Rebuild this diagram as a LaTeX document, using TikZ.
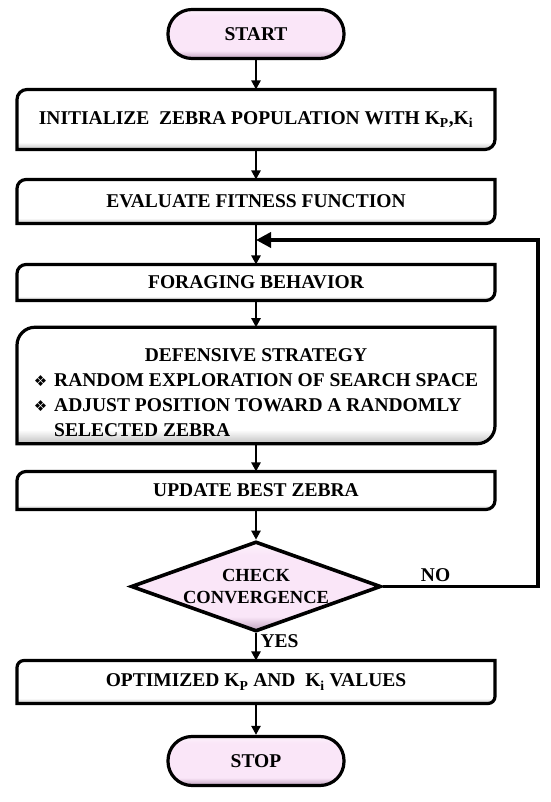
\documentclass[tikz,border=0pt]{standalone}
\usepackage{fontspec}
\setmainfont{Liberation Serif}
\newfontfamily\symfont{DejaVu Sans}
\usetikzlibrary{shapes.geometric,arrows.meta,backgrounds}
\definecolor{zpink}{RGB}{250,230,248}
\definecolor{zpinkd}{RGB}{190,160,188}
\pgfdeclareverticalshading{zwhite}{100bp}{color(0bp)=(black!25); color(25bp)=(black!25);
  color(31bp)=(white); color(100bp)=(white)}
\pgfdeclareverticalshading{zrose}{100bp}{color(0bp)=(zpinkd); color(25bp)=(zpinkd);
  color(33bp)=(zpink); color(68bp)=(zpink); color(75bp)=(zpink!50!white); color(100bp)=(zpink!50!white)}
\newcommand{\zbul}{{\symfont\mdseries\fontsize{15}{15}\selectfont ❖}}

\begin{document}
\begin{tikzpicture}[x=1pt,y=1pt,font=\fontsize{19.5}{25}\selectfont\bfseries,
  term/.style={draw,line width=3.2pt,rounded corners=24pt,minimum width=176pt,minimum height=49pt,shading=zrose},
  act/.style={minimum width=478pt,align=center,inner sep=0pt,outer sep=0pt},
  frame/.style={line width=3.2pt,shading=zwhite},
  dec/.style={diamond,draw,line width=3.6pt,aspect=2.8,inner sep=-20pt,minimum width=250pt,minimum height=90pt,
    align=center,shading=zrose,font=\fontsize{18.5}{22}\selectfont\bfseries},
  arr/.style={-{Triangle[length=9pt,width=9pt]},line width=2.6pt},
  back/.style={-{Triangle[length=15pt,width=15pt]},line width=3.6pt}]
\useasboundingbox (0,0) rectangle (550,802);
\node[term] (start) at (256,768) {START};
\node[act,minimum height=60pt] (init) at (256,682.5)
 {INITIALIZE\ \ ZEBRA POPULATION WITH K\textsubscript{P},K\textsubscript{i}};
\node[act,minimum height=44pt] (eval) at (256,600.5) {EVALUATE\ FITNESS\ FUNCTION};
\node[act,minimum height=36pt] (forage) at (256,519.5) {FORAGING BEHAVIOR};
\node[act,minimum height=112pt] (defend) at (256,416.5)
 {\begin{tabular}{@{}l@{\hspace{7pt}}l@{}}
  \multicolumn{2}{c}{\rule{0pt}{34pt}DEFENSIVE STRATEGY}\\
  \zbul & RANDOM EXPLORATION OF SEARCH SPACE\\
  \zbul & ADJUST POSITION TOWARD A RANDOMLY\\
        & SELECTED ZEBRA
  \end{tabular}};
\node[act,minimum height=38pt] (upd) at (256,311.5) {UPDATE BEST ZEBRA};
\node[dec] (chk) at (256,215.5) {CHECK\\CONVERGENCE};
\node[act,minimum height=43pt] (opt) at (256,120) {OPTIMIZED K\textsubscript{P} AND\ \ K\textsubscript{i} VALUES};
\node[term] (stop) at (256,41) {STOP};
\coordinate (merge) at (256,562);
\coordinate (rt) at (538,562);
\begin{scope}[on background layer]
\foreach \n/\r in {init/10pt,eval/9pt,forage/9pt,defend/18pt,upd/9pt,opt/7pt}
  \draw[frame] (\n.south west) -- ([yshift=-\r]\n.north west) arc[start angle=180,end angle=90,radius=\r]
    -- (\n.north east) -- ([yshift=\r]\n.south east) arc[start angle=0,end angle=-90,radius=\r] -- cycle;
\end{scope}
\draw[arr] (start) -- (init);
\draw[arr] (init) -- (eval);
\draw[arr] (eval) -- (forage);
\draw[arr] (forage) -- (defend);
\draw[arr] (defend) -- (upd);
\draw[arr] (upd) -- (chk);
\draw[arr] (chk) -- node[right,pos=0.3]{YES} (opt);
\draw[arr] (opt) -- (stop);
\draw[back] (chk.east) -| node[pos=0.17,above]{NO} (rt) -- (merge);
\end{tikzpicture}
\end{document}
